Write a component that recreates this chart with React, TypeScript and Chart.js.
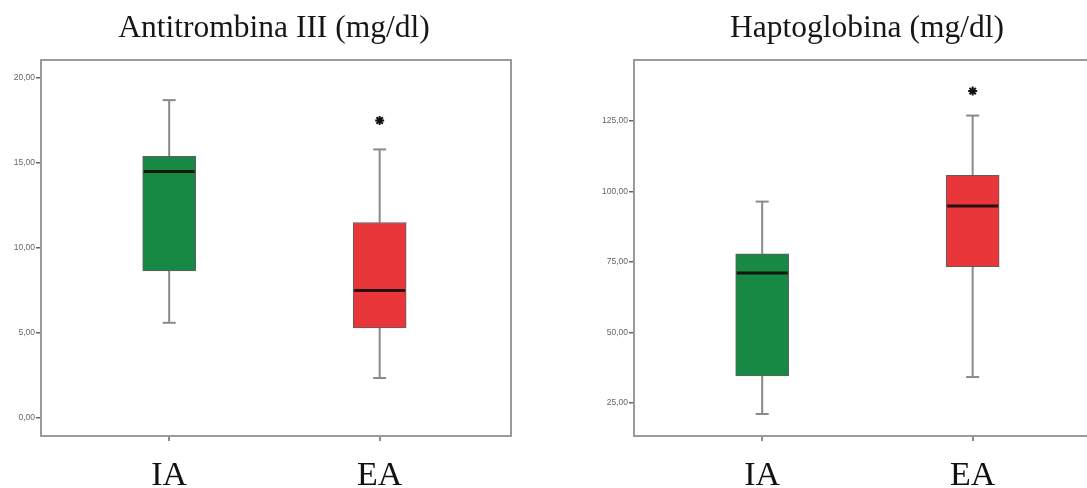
import React, { useEffect, useRef } from "react";
import { Chart, registerables } from "chart.js";

Chart.register(...registerables);

// ---- data ----
const categories = ["IA", "EA"];
const categoryPositions = [1, 2];

const atTitle = "Antitrombina III (mg/dl)";
const atWhiskerLow = [5.6, 2.35];
const atQ1 = [8.65, 5.3];
const atMedian = [14.5, 7.5];
const atQ3 = [15.4, 11.5];
const atWhiskerHigh = [18.7, 15.8];
const atOutliers = [[], [17.5]];
const atTicks = [0, 5, 10, 15, 20];
const atRange = [-1.06, 21.06];

const hpTitle = "Haptoglobina (mg/dl)";
const hpWhiskerLow = [21.1, 34.2];
const hpQ1 = [34.6, 73.3];
const hpMedian = [71.1, 94.8];
const hpQ3 = [77.9, 105.7];
const hpWhiskerHigh = [96.4, 126.9];
const hpOutliers = [[], [135.6]];
const hpTicks = [25, 50, 75, 100, 125];
const hpRange = [13.3, 146.6];

const xRange = [0.391, 2.624];

const boxColors = ["#178944", "#E8363B"];

type BoxSpec = {
  title: string;
  low: number[];
  q1: number[];
  med: number[];
  q3: number[];
  high: number[];
  outliers: number[][];
  ticks: number[];
  range: number[];
  axisWidth: number;
  canvasWidth: number;
  rightPad: number;
};

const fmt = (v: number) => v.toFixed(2).replace(".", ",");

function makeChart(canvas: HTMLCanvasElement, s: BoxSpec) {
  const boxPlugin = {
    id: "boxExtras",
    beforeDatasetsDraw(chart: any) {
      const { ctx } = chart;
      const xs = chart.scales.x;
      const ys = chart.scales.y;
      ctx.save();
      ctx.strokeStyle = "#8a8a8a";
      ctx.lineWidth = 2;
      categoryPositions.forEach((pos, i) => {
        const cx = xs.getPixelForValue(pos);
        const capHalf = 6.5;
        const pairs = [
          [s.high[i], s.q3[i]],
          [s.q1[i], s.low[i]],
        ];
        pairs.forEach(([a, b]) => {
          ctx.beginPath();
          ctx.moveTo(cx, ys.getPixelForValue(a));
          ctx.lineTo(cx, ys.getPixelForValue(b));
          ctx.stroke();
        });
        [s.high[i], s.low[i]].forEach((v) => {
          const y = ys.getPixelForValue(v);
          ctx.beginPath();
          ctx.moveTo(cx - capHalf, y);
          ctx.lineTo(cx + capHalf, y);
          ctx.stroke();
        });
      });
      ctx.restore();
    },
    afterDatasetsDraw(chart: any) {
      const { ctx } = chart;
      const xs = chart.scales.x;
      const ys = chart.scales.y;
      const meta = chart.getDatasetMeta(0);
      ctx.save();
      ctx.strokeStyle = "rgba(20,10,10,0.9)";
      ctx.lineWidth = 3;
      categoryPositions.forEach((pos, i) => {
        const cx = xs.getPixelForValue(pos);
        const w = meta.data[i] ? meta.data[i].width : 53;
        const y = ys.getPixelForValue(s.med[i]);
        ctx.beginPath();
        ctx.moveTo(cx - w / 2 + 1, y);
        ctx.lineTo(cx + w / 2 - 1, y);
        ctx.stroke();
      });
      ctx.restore();
    },
    afterDraw(chart: any) {
      const { ctx, chartArea } = chart;
      ctx.save();
      ctx.strokeStyle = "#9a9a9a";
      ctx.lineWidth = 2;
      ctx.strokeRect(
        chartArea.left,
        chartArea.top,
        chartArea.right - chartArea.left,
        chartArea.bottom - chartArea.top
      );
      ctx.fillStyle = "#161616";
      ctx.font = '31.5px "Liberation Serif"';
      ctx.textAlign = "center";
      ctx.textBaseline = "alphabetic";
      ctx.fillText(s.title, (chartArea.left + chartArea.right) / 2 - 2, 37);
      ctx.restore();
    },
  };

  const outlierData: { x: number; y: number }[] = [];
  s.outliers.forEach((arr, i) =>
    arr.forEach((v) => outlierData.push({ x: categoryPositions[i], y: v }))
  );

  return new Chart(canvas, {
    type: "bar",
    data: {
      datasets: [
        {
          type: "bar",
          data: categoryPositions.map((p, i) => ({ x: p, y: [s.q1[i], s.q3[i]] })) as any,
          backgroundColor: boxColors,
          borderColor: "rgba(40,40,40,0.75)",
          borderWidth: 1,
          borderSkipped: false,
          barThickness: 53,
        } as any,
        {
          type: "scatter",
          data: outlierData,
          pointStyle: "star",
          radius: 4.5,
          borderColor: "#111",
          backgroundColor: "#111",
          borderWidth: 2,
        } as any,
      ],
    },
    options: {
      responsive: false,
      animation: false,
      events: [],
      layout: { padding: { top: 60, left: 0, right: s.rightPad, bottom: 0 } },
      plugins: {
        legend: { display: false },
        title: { display: false },
        tooltip: { enabled: false },
      },
      scales: {
        x: {
          type: "linear",
          offset: false,
          min: xRange[0],
          max: xRange[1],
          grid: {
            offset: false,
            drawOnChartArea: false,
            drawTicks: true,
            tickLength: 5,
            tickColor: "#8a8a8a",
            lineWidth: 2,
          },
          border: { display: false },
          afterBuildTicks: (scale: any) => {
            scale.ticks = categoryPositions.map((v) => ({ value: v }));
          },
          afterFit: (scale: any) => {
            scale.height = 52;
          },
          ticks: {
            padding: 15,
            color: "#111",
            font: { family: "Liberation Serif", size: 34 },
            callback: (v: any) => {
              const idx = categoryPositions.indexOf(Number(v));
              return idx >= 0 ? categories[idx] : "";
            },
          },
        } as any,
        y: {
          type: "linear",
          min: s.range[0],
          max: s.range[1],
          grid: {
            drawOnChartArea: false,
            drawTicks: true,
            tickLength: 5,
            tickColor: "#666",
            lineWidth: 1.5,
          },
          border: { display: false },
          afterBuildTicks: (scale: any) => {
            scale.ticks = s.ticks.map((v) => ({ value: v }));
          },
          afterFit: (scale: any) => {
            scale.width = s.axisWidth;
          },
          ticks: {
            padding: 1,
            color: "#666",
            font: { family: "Liberation Sans", size: 8.5 },
            callback: (v: any) => fmt(Number(v)),
          },
        } as any,
      },
    },
    plugins: [boxPlugin],
  });
}

function BoxChart({ spec, left }: { spec: BoxSpec; left: number }) {
  const ref = useRef<HTMLCanvasElement | null>(null);
  useEffect(() => {
    if (!ref.current) return;
    const chart = makeChart(ref.current, spec);
    return () => chart.destroy();
  }, []);
  return (
    <canvas
      ref={ref}
      width={spec.canvasWidth}
      height={488}
      style={{ position: "absolute", left, top: 0, width: spec.canvasWidth, height: 488 }}
    />
  );
}

const leftSpec: BoxSpec = {
  title: atTitle,
  low: atWhiskerLow,
  q1: atQ1,
  med: atMedian,
  q3: atQ3,
  high: atWhiskerHigh,
  outliers: atOutliers,
  ticks: atTicks,
  range: atRange,
  axisWidth: 41,
  canvasWidth: 543,
  rightPad: 32,
};

const rightSpec: BoxSpec = {
  title: hpTitle,
  low: hpWhiskerLow,
  q1: hpQ1,
  med: hpMedian,
  q3: hpQ3,
  high: hpWhiskerHigh,
  outliers: hpOutliers,
  ticks: hpTicks,
  range: hpRange,
  axisWidth: 90,
  canvasWidth: 592,
  rightPad: 32,
};

export default function App() {
  return (
    <div
      style={{
        position: "fixed",
        left: 0,
        top: 0,
        width: 1087,
        height: 488,
        overflow: "hidden",
        background: "#fff",
      }}
    >
      <BoxChart spec={leftSpec} left={0} />
      <BoxChart spec={rightSpec} left={544} />
    </div>
  );
}
